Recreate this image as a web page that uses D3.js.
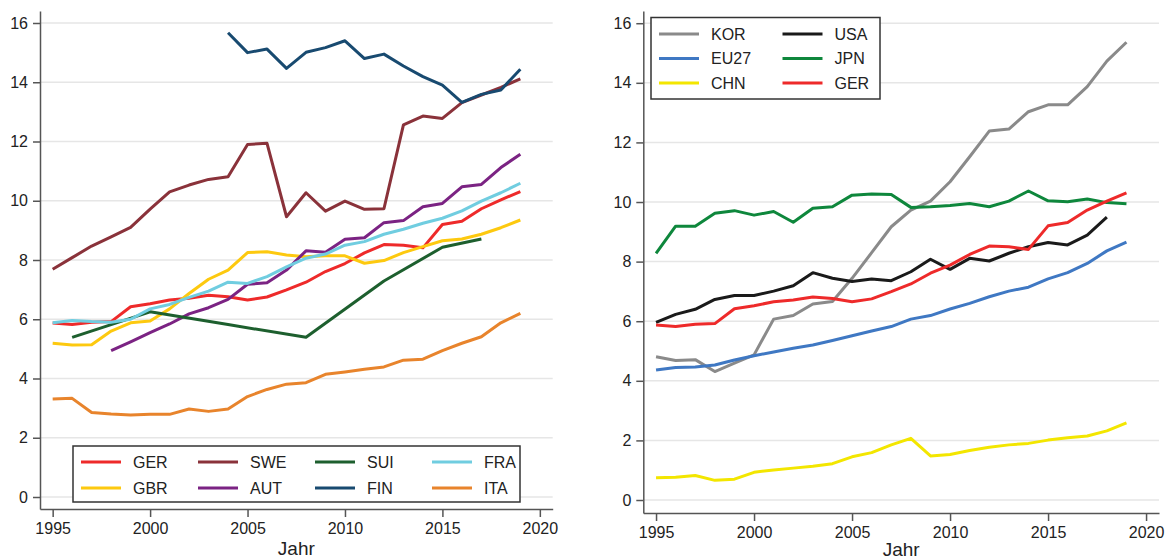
<!DOCTYPE html>
<html>
<head>
<meta charset="utf-8">
<script src="https://cdn.jsdelivr.net/npm/d3@7"></script>
<style>
  body { margin: 0; background: #fff; }
  svg { font-family: "Liberation Sans", Arial, sans-serif; }
</style>
</head>
<body>
<div id="chart"></div>
<script>
const years = [1995,1996,1997,1998,1999,2000,2001,2002,2003,2004,2005,2006,2007,
               2008,2009,2010,2011,2012,2013,2014,2015,2016,2017,2018,2019]
const xTicks = [1995, 2000, 2005, 2010, 2015, 2020]
const yTicks = [0, 2, 4, 6, 8, 10, 12, 14, 16]

// left panel
const ger = [5.87,5.82,5.9,5.92,6.42,6.52,6.65,6.71,6.81,6.76,6.65,6.75,6.99,7.25,7.61,7.88,8.24,8.52,8.5,8.41,9.2,9.31,9.73,10.03,10.31]
const gbr = [5.19,5.13,5.14,5.6,5.88,5.94,6.35,6.87,7.35,7.66,8.25,8.28,8.17,8.11,8.14,8.14,7.89,7.98,8.25,8.45,8.65,8.71,8.87,9.09,9.35]
const swe = [7.69,8.08,8.47,8.78,9.1,9.72,10.3,10.53,10.72,10.81,11.9,11.94,9.46,10.27,9.65,9.99,9.71,9.73,12.56,12.86,12.78,13.31,13.57,13.83,14.11]
const aut = [null,null,null,4.94,5.24,5.55,5.84,6.18,6.39,6.67,7.18,7.23,7.66,8.31,8.26,8.7,8.75,9.26,9.33,9.8,9.91,10.47,10.55,11.12,11.57]
const sui = [null,5.39,null,null,null,6.25,null,null,null,5.82,null,null,null,5.39,null,null,null,7.29,null,null,8.43,null,8.71,null,null]
const fin = [null,null,null,null,null,null,null,null,null,15.67,15.0,15.12,14.47,15.01,15.17,15.4,14.8,14.95,14.55,14.19,13.9,13.32,13.59,13.74,14.44]
const fra = [5.88,5.96,5.92,5.9,6.0,6.35,6.5,6.74,6.95,7.25,7.21,7.44,7.77,8.06,8.2,8.5,8.62,8.87,9.04,9.24,9.41,9.66,9.99,10.27,10.59]
const ita = [3.31,3.33,2.85,2.8,2.77,2.79,2.79,2.97,2.89,2.97,3.39,3.63,3.81,3.86,4.14,4.22,4.31,4.39,4.62,4.65,4.94,5.19,5.41,5.88,6.2]

// right panel
const kor = [4.81,4.68,4.71,4.31,4.59,4.87,6.07,6.19,6.58,6.66,7.44,8.3,9.17,9.73,10.03,10.68,11.52,12.38,12.45,13.03,13.26,13.26,13.87,14.73,15.36]
const eu27 = [4.36,4.45,4.46,4.53,4.7,4.84,4.97,5.09,5.2,5.35,5.51,5.67,5.82,6.07,6.19,6.41,6.6,6.82,7.01,7.14,7.42,7.63,7.94,8.36,8.65]
const chn = [0.75,0.76,0.82,0.66,0.7,0.93,1.01,1.07,1.13,1.22,1.45,1.59,1.85,2.07,1.48,1.53,1.66,1.77,1.85,1.9,2.01,2.09,2.15,2.32,2.59]
const usa = [5.96,6.23,6.4,6.73,6.86,6.86,7.01,7.19,7.63,7.44,7.33,7.42,7.36,7.66,8.08,7.74,8.11,8.02,8.28,8.5,8.64,8.56,8.89,9.49,null]
const jpn = [8.28,9.19,9.19,9.62,9.71,9.56,9.68,9.32,9.79,9.84,10.23,10.27,10.25,9.82,9.84,9.88,9.95,9.84,10.03,10.37,10.04,10.01,10.1,9.98,9.94]

const leftSeries = [
  {name: "GER", values: ger, color: "#ee2a2a"},
  {name: "GBR", values: gbr, color: "#fdc90f"},
  {name: "SWE", values: swe, color: "#8a323a"},
  {name: "AUT", values: aut, color: "#7b2383"},
  {name: "SUI", values: sui, color: "#1d5f2e"},
  {name: "FIN", values: fin, color: "#184a70"},
  {name: "FRA", values: fra, color: "#70cde0"},
  {name: "ITA", values: ita, color: "#e8842c"}
]
const rightSeries = [
  {name: "KOR", values: kor, color: "#8a8a8a"},
  {name: "EU27", values: eu27, color: "#3f78c3"},
  {name: "CHN", values: chn, color: "#f3e600"},
  {name: "USA", values: usa, color: "#1a1a1a"},
  {name: "JPN", values: jpn, color: "#0e873c"},
  {name: "GER", values: ger, color: "#ee2a2a"}
]

const svg = d3.select("#chart").append("svg")
  .attr("width", 1166)
  .attr("height", 560)

function panel(opt) {
  const x = d3.scaleLinear().domain([1994.35, 2020.66]).range([opt.left, opt.right])
  const y = d3.scaleLinear().domain(opt.ydom).range([opt.bottom, opt.top])
  const g = svg.append("g")

  // gridlines
  g.selectAll(".grid").data(yTicks).enter().append("line")
    .attr("x1", opt.left).attr("x2", opt.right)
    .attr("y1", d => y(d)).attr("y2", d => y(d))
    .attr("stroke", "#e6e6e6").attr("stroke-width", 1.5)

  const yAxis = g.append("g")
    .attr("transform", `translate(${opt.left},0)`)
    .call(d3.axisLeft(y).tickValues(yTicks).tickSize(7).tickSizeOuter(0).tickPadding(5))
  const xAxis = g.append("g")
    .attr("transform", `translate(0,${opt.bottom})`)
    .call(d3.axisBottom(x).tickValues(xTicks).tickFormat(d3.format("d")).tickSize(8).tickSizeOuter(0).tickPadding(6))

  for (const ax of [yAxis, xAxis]) {
    ax.select(".domain").attr("stroke", "#555").attr("stroke-width", 1.5)
    ax.selectAll(".tick line").attr("stroke", "#555").attr("stroke-width", 1.5)
    ax.selectAll(".tick text").attr("font-size", 16).attr("fill", "#222")
      .attr("font-family", "'Liberation Sans', Arial, sans-serif")
  }

  g.append("text")
    .attr("x", (opt.left + opt.right) / 2)
    .attr("y", opt.jahrY)
    .attr("text-anchor", "middle")
    .attr("font-size", 19)
    .attr("fill", "#222")
    .text("Jahr")

  const line = d3.line()
    .x(d => x(d.year))
    .y(d => y(d.v))

  opt.series.forEach(s => {
    const pts = years.map((yr, i) => ({year: yr, v: s.values[i]})).filter(d => d.v != null)
    g.append("path")
      .datum(pts)
      .attr("fill", "none")
      .attr("stroke", s.color)
      .attr("stroke-width", 3)
      .attr("stroke-linejoin", "round")
      .attr("d", line)
  })

  // legend
  const lg = g.append("g")
  lg.append("rect")
    .attr("x", opt.legend.x).attr("y", opt.legend.y)
    .attr("width", opt.legend.w).attr("height", opt.legend.h)
    .attr("fill", "#fff").attr("stroke", "#333").attr("stroke-width", 1.5)
  opt.series.forEach((s, i) => {
    const col = Math.floor(i / opt.legend.rows)
    const row = i % opt.legend.rows
    const lx = opt.legend.x + 8 + col * opt.legend.colW
    const ly = opt.legend.y + opt.legend.row0 + row * opt.legend.rowH
    lg.append("line")
      .attr("x1", lx).attr("x2", lx + 40)
      .attr("y1", ly).attr("y2", ly)
      .attr("stroke", s.color).attr("stroke-width", 3)
    lg.append("text")
      .attr("x", lx + 52).attr("y", ly)
      .attr("dy", "0.36em")
      .attr("font-size", 16)
      .attr("fill", "#222")
      .text(s.name)
  })
}

panel({
  left: 40, right: 552.7, top: 11, bottom: 509, jahrY: 555,
  ydom: [-0.405, 16.405],
  series: leftSeries,
  legend: {x: 73, y: 446, w: 447, h: 56, rows: 2, colW: 117, row0: 16, rowH: 26}
})

panel({
  left: 643.3, right: 1159, top: 11, bottom: 513, jahrY: 556,
  ydom: [-0.436, 16.41],
  series: rightSeries,
  legend: {x: 651, y: 17.5, w: 229, h: 81.5, rows: 3, colW: 123.5, row0: 16.5, rowH: 24.5}
})
</script>
</body>
</html>
